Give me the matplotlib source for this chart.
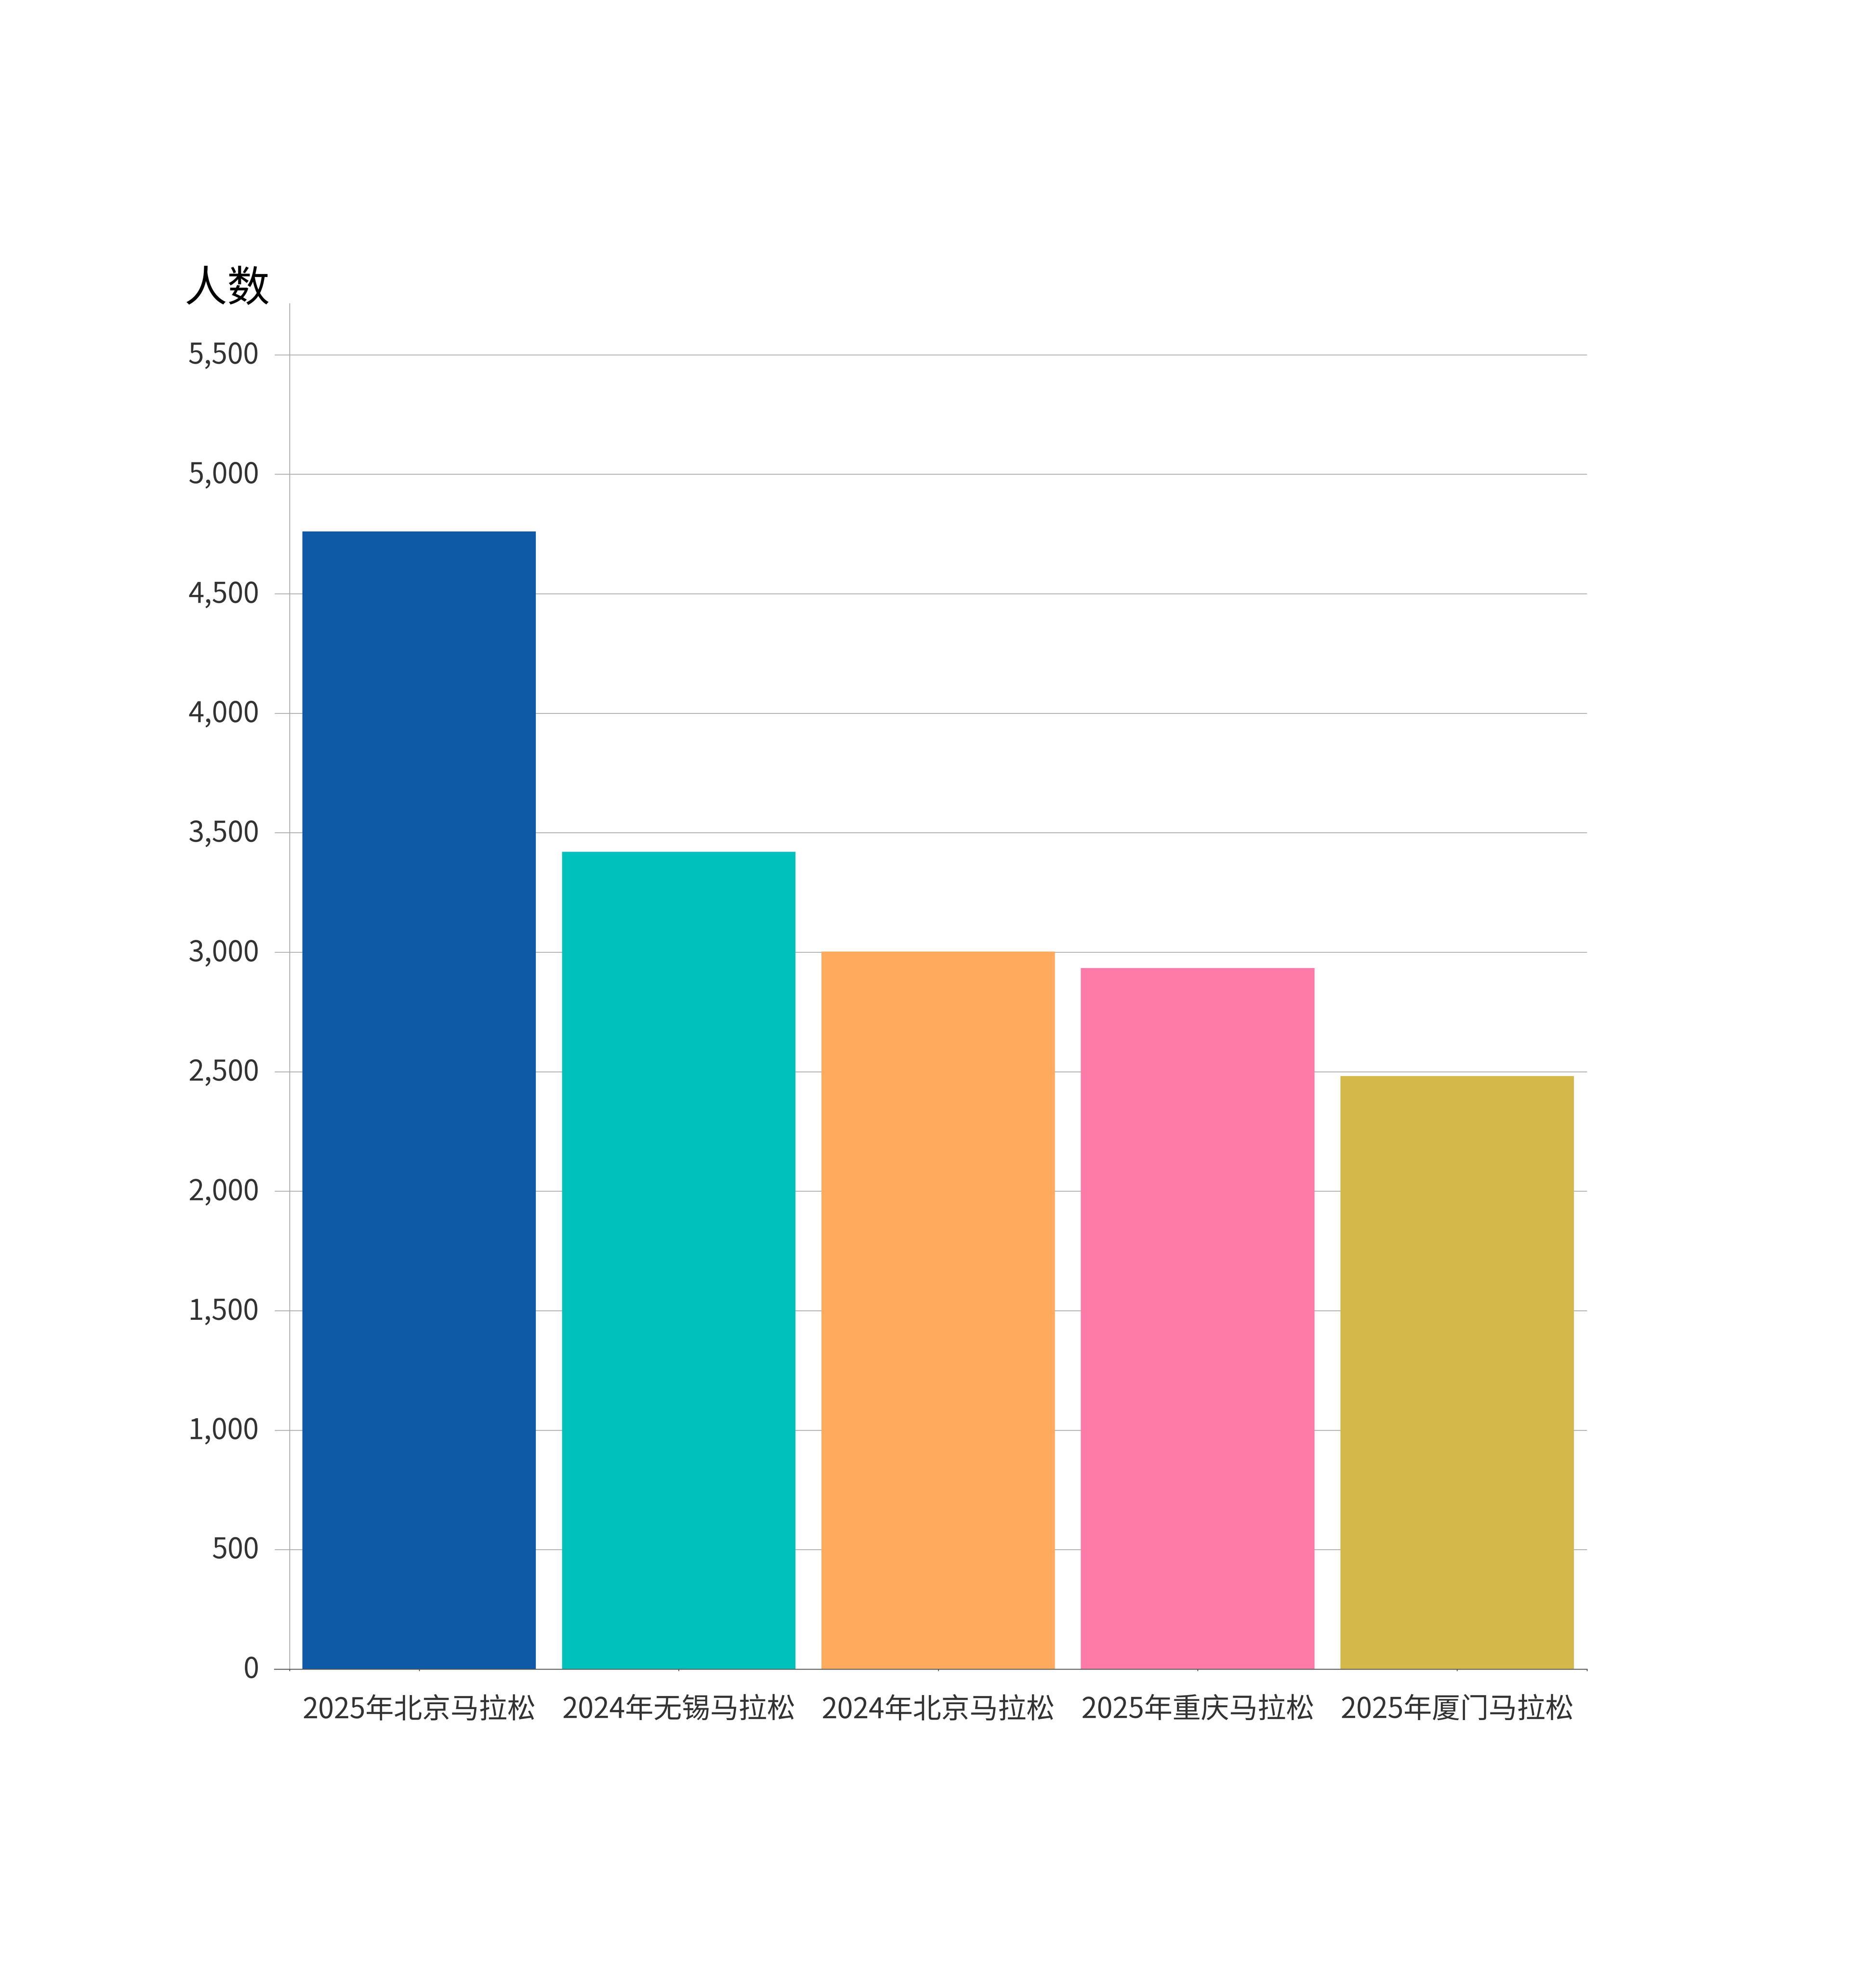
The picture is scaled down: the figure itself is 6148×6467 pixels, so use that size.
import matplotlib
matplotlib.use('Agg')
import matplotlib.pyplot as plt
from matplotlib.ticker import FuncFormatter, FixedLocator
from matplotlib.transforms import ScaledTranslation

plt.rcParams['font.family'] = ['Noto Sans CJK SC', 'DejaVu Sans']

# data
races = ['2025年北京马拉松', '2024年无锡马拉松', '2024年北京马拉松', '2025年重庆马拉松', '2025年厦门马拉松']
counts = [4760, 3420, 3003, 2933, 2482]
bar_colors = ['#0e5aa7', '#00c1bc', '#ffaa5d', '#ff7ba7', '#d4b84a']
y_ticks = [0, 500, 1000, 1500, 2000, 2500, 3000, 3500, 4000, 4500, 5000, 5500]

# layout measured on a 6611 x 6954 canvas
W, H = 6611, 6954
DPI = 372  # a bit under 400 so the png stays below 40M pixels
fig = plt.figure(figsize=(W / 400, H / 400), dpi=DPI)
ax = fig.add_axes([1020 / W, 1 - 5883 / H, (5592 - 1020) / W, (5883 - 1070) / H])

x = list(range(len(races)))
ax.bar(x, counts, width=0.9, color=bar_colors, zorder=2)

ax.set_xlim(-0.5, len(races) - 0.5)
ax.set_ylim(0, 5714)

ax.set_yticks(y_ticks)
ax.yaxis.set_major_formatter(FuncFormatter(lambda v, p: f'{int(v):,}'))
ax.grid(axis='y', color='#a8a8a8', linewidth=0.5, zorder=0)
ax.tick_params(axis='y', length=9.4, width=0.5, color='#a8a8a8', pad=9.9,
               labelsize=18, labelcolor='#333333')

ax.set_xticks(x)
ax.set_xticklabels(races)
ax.xaxis.set_minor_locator(FixedLocator([-0.5, len(races) - 0.5]))
ax.tick_params(axis='x', which='both', length=1.1, width=0.55, color='#555555',
               pad=15.6, labelsize=18, labelcolor='#333333')

# nudge y labels up a little so they sit centred on the grid lines
shift = ScaledTranslation(0, 1.6 / 72, fig.dpi_scale_trans)
for lab in ax.get_yticklabels():
    lab.set_transform(lab.get_transform() + shift)

for side in ['top', 'right']:
    ax.spines[side].set_visible(False)
ax.spines['left'].set_color('#a8a8a8')
ax.spines['left'].set_linewidth(0.5)
ax.spines['bottom'].set_color('#555555')
ax.spines['bottom'].set_linewidth(0.55)
ax.spines['bottom'].set_bounds(-0.5 - 53 / 914, len(races) - 0.5)
ax.spines['bottom'].set_zorder(3)

fig.text(651 / W, 1 - 1062 / H, '人数', fontsize=27, color='#000000',
         ha='left', va='baseline')

fig.savefig('out.png', dpi=DPI, facecolor='white')
